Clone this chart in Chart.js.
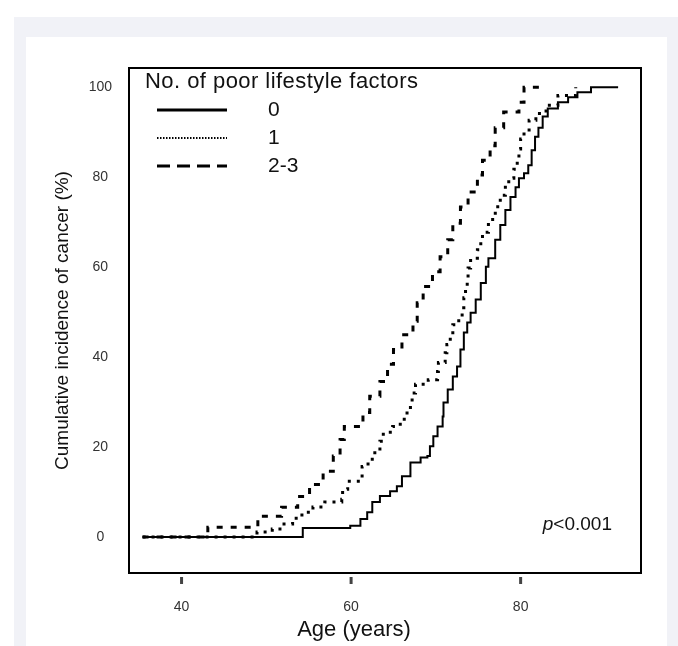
<!DOCTYPE html>
<html>
<head>
<meta charset="utf-8">
<script src="https://cdn.jsdelivr.net/npm/chart.js@4.4.1/dist/chart.umd.min.js"></script>
<style>
  html, body { margin: 0; padding: 0; background: #fff; }
  #frame { position: absolute; left: 14px; top: 17px; width: 664px; height: 629px; background: #f1f2f7; }
  #inner { position: absolute; left: 26px; top: 37px; width: 641px; height: 609px; background: #fff; }
  #chart { position: absolute; left: 0; top: 0; }
</style>
</head>
<body>
<div id="frame"></div>
<div id="inner"></div>
<canvas id="chart" width="678" height="646"></canvas>
<script>
// Cumulative incidence (%) by age, step points
const age0 = [35.4, 54.3, 59.9, 61.1, 61.9, 62.5, 63.4, 64.6, 65.4, 66, 67, 68.2, 69, 69.3, 69.7, 70.2, 70.8, 70.9, 71.4, 72, 72.5, 72.9, 73.3, 73.7, 74.1, 74.7, 75.3, 75.9, 76.2, 77, 77.6, 78.2, 78.8, 79.4, 79.8, 80.4, 80.9, 81.3, 81.7, 82.1, 82.6, 83.2, 84.4, 85.6, 86.7, 88.3, 91.5];
const inc0 = [0, 2, 2.5, 4, 5.5, 7.8, 9.1, 10.2, 11.3, 13.5, 16.6, 17.7, 18, 20.2, 22.4, 24.6, 26.8, 29.9, 32.8, 35.7, 37.9, 41.7, 45.5, 47.7, 49.9, 52.8, 56.5, 60.1, 62, 66.1, 69.4, 72.7, 75.6, 77.8, 79.8, 80.9, 82.7, 86, 89, 91, 93.5, 95.3, 96.7, 97.8, 98.9, 100, 100];

const age1 = [35.4, 48.9, 50.7, 51.8, 53.1, 54.2, 55.5, 56.9, 58.9, 59, 59.6, 61.3, 62, 62.8, 63.4, 63.8, 64.9, 65.8, 66.6, 67, 67.2, 67.6, 69.1, 70.2, 70.3, 71.1, 71.3, 71.7, 72, 72.7, 73.1, 73.3, 73.5, 73.7, 73.8, 74.1, 74.9, 75.3, 75.5, 76.2, 76.7, 77.3, 77.6, 78.2, 78.6, 79.2, 79.6, 79.8, 80, 80.4, 81, 81.8, 83, 84.4, 86.5];
const inc1 = [0, 1.1, 1.8, 2.9, 4.2, 5.5, 6.7, 7.8, 8.4, 10.6, 12.4, 15.7, 17.3, 19.1, 21.3, 23.3, 24.6, 26.2, 28, 29.9, 32, 34, 35, 36.8, 38.8, 41, 42.8, 45, 47.2, 49, 51, 53.2, 55.4, 57.6, 59.8, 62, 63.9, 66, 67.8, 70, 72, 74.3, 76, 78.3, 79.8, 81.8, 84.3, 86.3, 88.5, 90.5, 92.7, 94.2, 96, 98.2, 100];

const age23 = [35.4, 43.1, 49, 51.8, 53.7, 55.1, 56.7, 57.9, 58.7, 59.2, 61.4, 62.2, 63.4, 64.3, 65, 66, 67.3, 67.8, 68.5, 69.6, 70.5, 71.4, 72, 72.9, 73.8, 74.9, 75.5, 76.4, 77, 78, 79.8, 80.4, 82.7];
const inc23 = [0, 2.2, 4.6, 6.6, 9, 11.7, 14.6, 18, 21.7, 24.6, 27.7, 31.3, 34.6, 38.4, 41.7, 45, 48, 52.1, 55.7, 59, 62.3, 66.1, 69.8, 73.4, 76.7, 80.5, 83.8, 87, 91, 94.5, 96.7, 100, 100];

const groupLabels = ['0', '1', '2-3'];
const xTicks = [40, 60, 80];
const yTicks = [0, 20, 40, 60, 80, 100];

const font = '"Liberation Sans", Arial, sans-serif';
const lineStyles = [
    { width: 2, dash: [] },
    { width: 3, dash: [3, 6] },
    { width: 3, dash: [6, 8] }
];

function toPoints(xs, ys) {
    return xs.map((x, i) => ({ x: x, y: ys[i] }));
}

// box around the plot, tick marks under the x axis, legend, p value, x title
const decorations = {
    id: 'decorations',
    afterDraw(chart) {
        const ctx = chart.ctx;
        const a = chart.chartArea;
        const xs = chart.scales.x;
        ctx.save();
        ctx.strokeStyle = '#000';
        ctx.lineWidth = 2;
        ctx.strokeRect(a.left, a.top, a.right - a.left, a.bottom - a.top);

        ctx.strokeStyle = '#444';
        ctx.lineWidth = 3;
        xTicks.forEach(v => {
            const px = xs.getPixelForValue(v);
            ctx.beginPath();
            ctx.moveTo(px, a.bottom + 4);
            ctx.lineTo(px, a.bottom + 11);
            ctx.stroke();
        });

        // legend
        ctx.fillStyle = '#111';
        ctx.textBaseline = 'middle';
        ctx.font = '22px ' + font;
        const title = 'No. of poor lifestyle factors';
        const tw = ctx.measureText(title).width;
        ctx.letterSpacing = ((273 - tw) / (title.length - 1)).toFixed(2) + 'px';
        ctx.fillText(title, 145, 82);
        ctx.letterSpacing = '0px';
        ctx.font = '21px ' + font;
        const rows = [110, 138, 166];
        const legendStyles = [
            { width: 3, dash: [] },
            { width: 2, dash: [1.5, 1.5] },
            { width: 3, dash: [13, 7] }
        ];
        groupLabels.forEach((lab, i) => {
            ctx.strokeStyle = '#000';
            ctx.lineWidth = legendStyles[i].width;
            ctx.setLineDash(legendStyles[i].dash);
            ctx.beginPath();
            ctx.moveTo(157, rows[i]);
            ctx.lineTo(227, rows[i]);
            ctx.stroke();
            ctx.fillText(lab, 268, rows[i]);
        });
        ctx.setLineDash([]);

        // p value
        ctx.textBaseline = 'alphabetic';
        ctx.font = '19px ' + font;
        const rest = '<0.001';
        const rw = ctx.measureText(rest).width;
        ctx.fillText(rest, 612 - rw, 530);
        ctx.font = 'italic 19px ' + font;
        const pw = ctx.measureText('p').width;
        ctx.fillText('p', 612 - rw - pw, 530);

        // x axis title
        ctx.font = '22px ' + font;
        ctx.textAlign = 'center';
        ctx.textBaseline = 'middle';
        ctx.fillText('Age (years)', 354, 630);
        ctx.restore();
    }
};

const datasets = [toPoints(age0, inc0), toPoints(age1, inc1), toPoints(age23, inc23)].map((pts, i) => ({
    label: groupLabels[i],
    data: pts,
    borderColor: '#000',
    borderWidth: lineStyles[i].width,
    borderDash: lineStyles[i].dash,
    stepped: true,
    pointRadius: 0,
    fill: false
}));

new Chart(document.getElementById('chart'), {
    type: 'line',
    data: { datasets: datasets },
    options: {
        responsive: false,
        animation: false,
        layout: { padding: { left: 0, top: 68, right: 37, bottom: 0 } },
        plugins: { legend: { display: false }, tooltip: { enabled: false } },
        scales: {
            x: {
                type: 'linear',
                min: 33.8,
                max: 94.2,
                afterBuildTicks: s => { s.ticks = xTicks.map(v => ({ value: v })); },
                afterFit: s => { s.height = 73; },
                grid: { display: false, drawTicks: false },
                border: { display: false },
                ticks: { color: '#333', padding: 26, font: { family: font, size: 14 } },
                title: { display: false }
            },
            y: {
                min: -8,
                max: 104.3,
                afterBuildTicks: s => { s.ticks = yTicks.map(v => ({ value: v })); },
                afterFit: s => { s.width = 129; },
                grid: { display: false, drawTicks: false },
                border: { display: false },
                ticks: { color: '#333', padding: 17, crossAlign: 'center', font: { family: font, size: 14 } },
                title: {
                    display: true,
                    text: 'Cumulative incidence of cancer (%)',
                    color: '#111',
                    font: { family: font, size: 19 },
                    padding: { top: 51, bottom: 0 }
                }
            }
        }
    },
    plugins: [decorations]
});
</script>
</body>
</html>
